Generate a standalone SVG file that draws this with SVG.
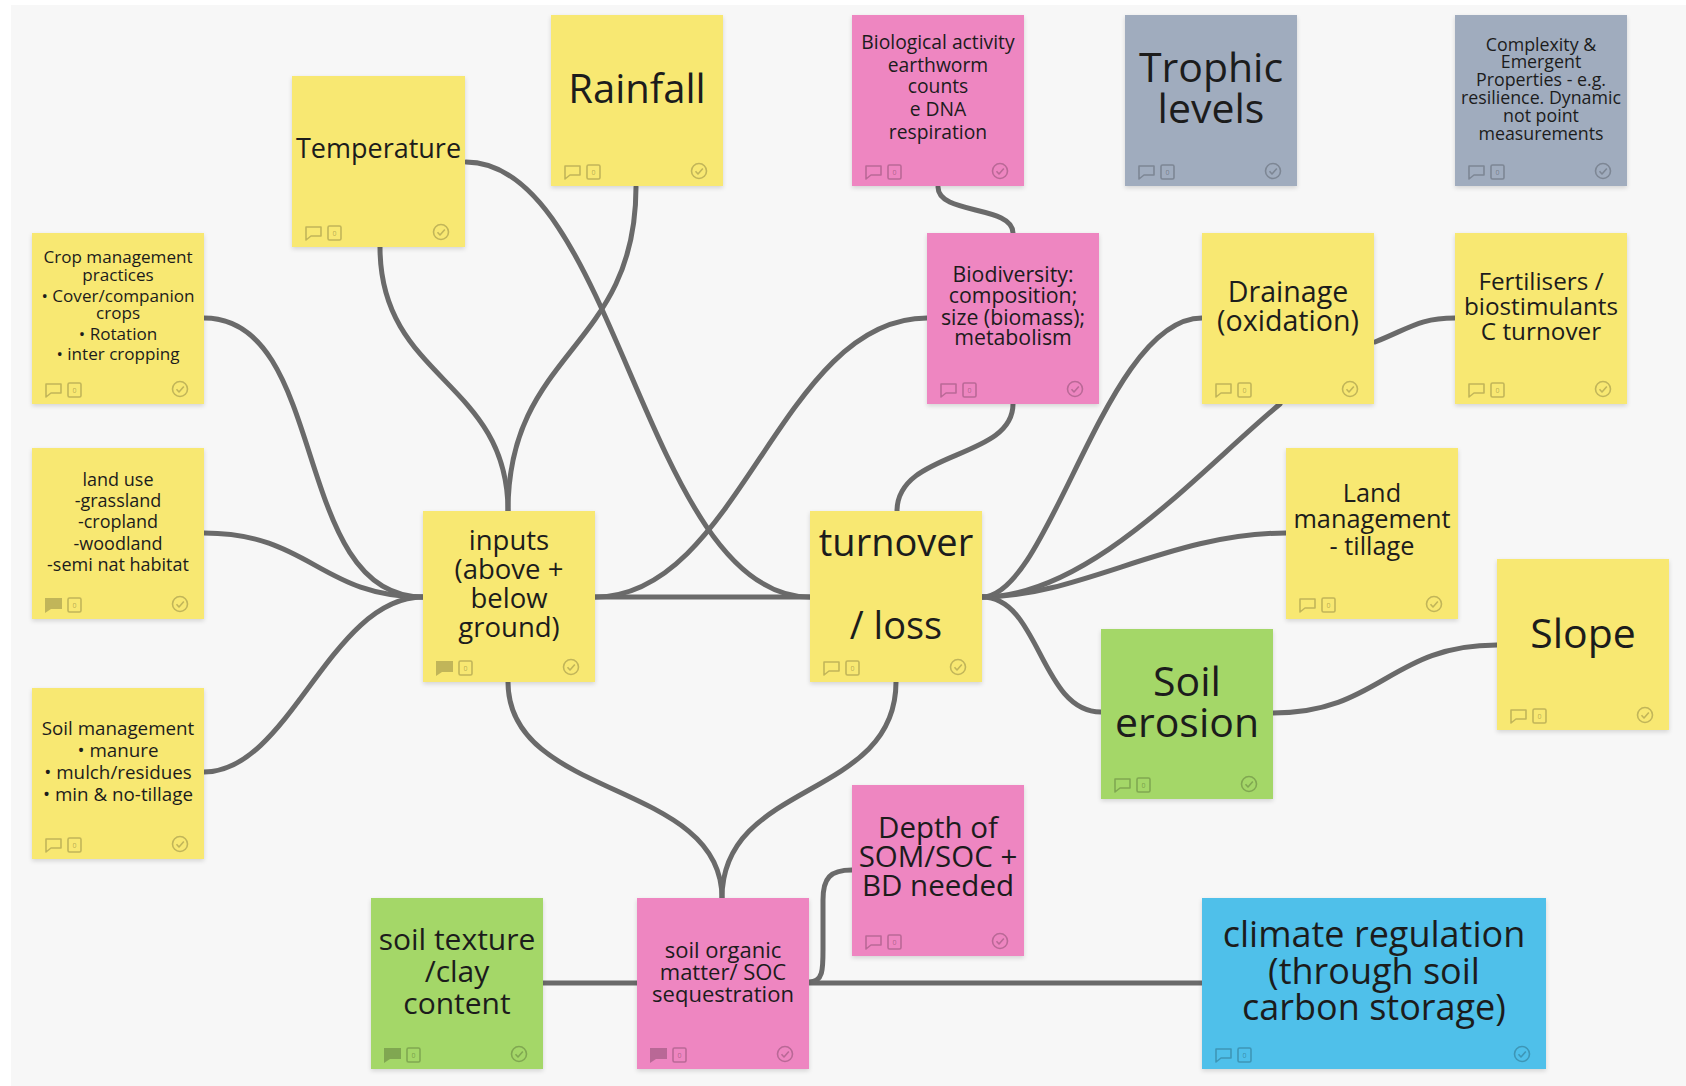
<svg xmlns="http://www.w3.org/2000/svg" xmlns:xlink="http://www.w3.org/1999/xlink" width="1686" height="1086" viewBox="0 0 1686 1086">
<defs>
<style>
.bg{fill:#f7f7f7}
.n{stroke:none;filter:url(#sh)}
.y{fill:#f8e872}.p{fill:#ee86c1}.g{fill:#a0acbe}.gr{fill:#a4d768}.b{fill:#4fc0ea}
text{font-family:"Open Sans","Noto Sans","Liberation Sans",sans-serif;fill:#1c1c1c;text-anchor:middle}
.c{fill:none;stroke:#6a6a6a;stroke-width:5;stroke-linecap:round}
.ic{fill:none;stroke:#000;stroke-opacity:.22;stroke-width:1.6;stroke-linejoin:round}
.icf{fill:#000;fill-opacity:.22;stroke:none}
.zero{font-size:7px;fill:#000;fill-opacity:.3}
</style>
<filter id="sh" x="-5%" y="-5%" width="110%" height="115%">
<feDropShadow dx="0" dy="2" stdDeviation="2" flood-color="#000" flood-opacity="0.14"/>
</filter>
<g id="ftL">
<path class="ic" d="M14 -20 H29 V-11 H19 L14 -7 Z"/>
<rect class="ic" x="36" y="-21" width="13" height="14" rx="1.5"/>
<text class="zero" x="42.5" y="-11.5">0</text>
</g>
<g id="ftF">
<path class="icf" d="M13 -21 H30 V-10 H19 L13 -6 Z"/>
<rect class="ic" x="36" y="-21" width="13" height="14" rx="1.5"/>
<text class="zero" x="42.5" y="-11.5">0</text>
</g>
<g id="ck">
<circle class="ic" cx="0" cy="0" r="7.5"/>
<path class="ic" d="M-3.5 0.3 L-1 3 L3.8 -2.6"/>
</g>
</defs>

<rect x="0" y="0" width="1686" height="1086" fill="#ffffff"/>
<rect class="bg" x="11" y="5" width="1675" height="1081"/>

<g id="connectors">
<path class="c" d="M466 162 C616 162 646 597 810 597"/>
<path class="c" d="M636 187 C636 350 508 350 508 511"/>
<path class="c" d="M380 247 C380 380 508 380 508 511"/>
<path class="c" d="M204 318 C330 318 290 597 423 597"/>
<path class="c" d="M204 533 C310 533 320 597 423 597"/>
<path class="c" d="M204 772 C290 772 330 597 423 597"/>
<path class="c" d="M595 597 L810 597"/>
<path class="c" d="M595 597 C740 597 780 318 927 318"/>
<path class="c" d="M938 187 C938 215 1013 205 1013 233"/>
<path class="c" d="M1013 404 C1013 460 897 450 897 511"/>
<path class="c" d="M896 682 C896 800 722 780 722 898"/>
<path class="c" d="M508 682 C508 800 722 780 722 898"/>
<path class="c" d="M543 983 L637 983"/>
<path class="c" d="M809 983 L1202 983"/>
<path class="c" d="M809 982 C824 982 823 968 823 945 L823 900 C823 878 830 870 852 870"/>
<path class="c" d="M982 597 C1050 597 1105 318 1202 318"/>
<path class="c" d="M982 597 C1090 597 1200 470 1280 404"/>
<path class="c" d="M982 597 C1080 597 1170 533 1286 533"/>
<path class="c" d="M982 597 C1040 597 1040 712 1101 712"/>
<path class="c" d="M1375 342 C1410 328 1420 318 1455 318"/>
<path class="c" d="M1273 713 C1380 713 1390 645 1497 645"/>
</g>

<g id="temperature">
<rect class="n y" x="292" y="76" width="173" height="171"/>
<text x="378.5" y="158" font-size="27">Temperature</text>
<use href="#ftL" x="292" y="247"/><use href="#ck" x="441" y="232"/>
</g>

<g id="rainfall">
<rect class="n y" x="551" y="15" width="172" height="171"/>
<text x="637" y="103" font-size="40">Rainfall</text>
<use href="#ftL" x="551" y="186"/><use href="#ck" x="699" y="171"/>
</g>

<g id="biological-activity">
<rect class="n p" x="852" y="15" width="172" height="171"/>
<text x="938" font-size="19.3"><tspan x="938" y="49">Biological activity</tspan><tspan x="938" y="72">earthworm</tspan><tspan x="938" y="93">counts</tspan><tspan x="938" y="116">e DNA</tspan><tspan x="938" y="139">respiration</tspan></text>
<use href="#ftL" x="852" y="186"/><use href="#ck" x="1000" y="171"/>
</g>

<g id="trophic-levels">
<rect class="n g" x="1125" y="15" width="172" height="171"/>
<text x="1211" font-size="41"><tspan x="1211" y="82">Trophic</tspan><tspan x="1211" y="123">levels</tspan></text>
<use href="#ftL" x="1125" y="186"/><use href="#ck" x="1273" y="171"/>
</g>

<g id="complexity">
<rect class="n g" x="1455" y="15" width="172" height="171"/>
<text x="1541" font-size="17.8"><tspan x="1541" y="51">Complexity &amp;</tspan><tspan x="1541" y="68">Emergent</tspan><tspan x="1541" y="86">Properties - e.g.</tspan><tspan x="1541" y="104">resilience. Dynamic</tspan><tspan x="1541" y="122">not point</tspan><tspan x="1541" y="140">measurements</tspan></text>
<use href="#ftL" x="1455" y="186"/><use href="#ck" x="1603" y="171"/>
</g>

<g id="crop-management">
<rect class="n y" x="32" y="233" width="172" height="171"/>
<text x="118" font-size="17.1"><tspan x="118" y="263">Crop management</tspan><tspan x="118" y="281">practices</tspan><tspan x="118" y="302">• Cover/companion</tspan><tspan x="118" y="319">crops</tspan><tspan x="118" y="340">• Rotation</tspan><tspan x="118" y="360">• inter cropping</tspan></text>
<use href="#ftL" x="32" y="404"/><use href="#ck" x="180" y="389"/>
</g>

<g id="biodiversity">
<rect class="n p" x="927" y="233" width="172" height="171"/>
<text x="1013" font-size="21.3"><tspan x="1013" y="282">Biodiversity:</tspan><tspan x="1013" y="303">composition;</tspan><tspan x="1013" y="325">size (biomass);</tspan><tspan x="1013" y="345">metabolism</tspan></text>
<use href="#ftL" x="927" y="404"/><use href="#ck" x="1075" y="389"/>
</g>

<g id="drainage">
<rect class="n y" x="1202" y="233" width="172" height="171"/>
<text x="1288" font-size="28.6"><tspan x="1288" y="302">Drainage</tspan><tspan x="1288" y="331">(oxidation)</tspan></text>
<use href="#ftL" x="1202" y="404"/><use href="#ck" x="1350" y="389"/>
</g>

<g id="fertilisers">
<rect class="n y" x="1455" y="233" width="172" height="171"/>
<text x="1541" font-size="24.3"><tspan x="1541" y="290">Fertilisers /</tspan><tspan x="1541" y="315">biostimulants</tspan><tspan x="1541" y="340">C turnover</tspan></text>
<use href="#ftL" x="1455" y="404"/><use href="#ck" x="1603" y="389"/>
</g>

<g id="land-use">
<rect class="n y" x="32" y="448" width="172" height="171"/>
<text x="118" font-size="18"><tspan x="118" y="486">land use</tspan><tspan x="118" y="507">-grassland</tspan><tspan x="118" y="528">-cropland</tspan><tspan x="118" y="550">-woodland</tspan><tspan x="118" y="571">-semi nat habitat</tspan></text>
<use href="#ftF" x="32" y="619"/><use href="#ck" x="180" y="604"/>
</g>

<g id="land-management">
<rect class="n y" x="1286" y="448" width="172" height="171"/>
<text x="1372" font-size="25.3"><tspan x="1372" y="502">Land</tspan><tspan x="1372" y="528">management</tspan><tspan x="1372" y="555">- tillage</tspan></text>
<use href="#ftL" x="1286" y="619"/><use href="#ck" x="1434" y="604"/>
</g>

<g id="inputs">
<rect class="n y" x="423" y="511" width="172" height="171"/>
<text x="509" font-size="27.5"><tspan x="509" y="550">inputs</tspan><tspan x="509" y="579">(above +</tspan><tspan x="509" y="608">below</tspan><tspan x="509" y="637">ground)</tspan></text>
<use href="#ftF" x="423" y="682"/><use href="#ck" x="571" y="667"/>
</g>

<g id="turnover">
<rect class="n y" x="810" y="511" width="172" height="171"/>
<text x="896" font-size="38"><tspan x="896" y="556">turnover</tspan><tspan x="896" y="639">/ loss</tspan></text>
<use href="#ftL" x="810" y="682"/><use href="#ck" x="958" y="667"/>
</g>

<g id="slope">
<rect class="n y" x="1497" y="559" width="172" height="171"/>
<text x="1583" y="648" font-size="41">Slope</text>
<use href="#ftL" x="1497" y="730"/><use href="#ck" x="1645" y="715"/>
</g>

<g id="soil-erosion">
<rect class="n gr" x="1101" y="629" width="172" height="170"/>
<text x="1187" font-size="41"><tspan x="1187" y="696">Soil</tspan><tspan x="1187" y="737">erosion</tspan></text>
<use href="#ftL" x="1101" y="799"/><use href="#ck" x="1249" y="784"/>
</g>

<g id="soil-management">
<rect class="n y" x="32" y="688" width="172" height="171"/>
<text x="118" font-size="18.8"><tspan x="118" y="735">Soil management</tspan><tspan x="118" y="757">• manure</tspan><tspan x="118" y="779">• mulch/residues</tspan><tspan x="118" y="801">• min &amp; no-tillage</tspan></text>
<use href="#ftL" x="32" y="859"/><use href="#ck" x="180" y="844"/>
</g>

<g id="depth">
<rect class="n p" x="852" y="785" width="172" height="171"/>
<text x="938" font-size="29.5"><tspan x="938" y="838">Depth of</tspan><tspan x="938" y="867">SOM/SOC +</tspan><tspan x="938" y="896">BD needed</tspan></text>
<use href="#ftL" x="852" y="956"/><use href="#ck" x="1000" y="941"/>
</g>

<g id="soil-texture">
<rect class="n gr" x="371" y="898" width="172" height="171"/>
<text x="457" font-size="30"><tspan x="457" y="950">soil texture</tspan><tspan x="457" y="982">/clay</tspan><tspan x="457" y="1014">content</tspan></text>
<use href="#ftF" x="371" y="1069"/><use href="#ck" x="519" y="1054"/>
</g>

<g id="soil-organic-matter">
<rect class="n p" x="637" y="898" width="172" height="171"/>
<text x="723" font-size="22"><tspan x="723" y="958">soil organic</tspan><tspan x="723" y="980">matter/ SOC</tspan><tspan x="723" y="1002">sequestration</tspan></text>
<use href="#ftF" x="637" y="1069"/><use href="#ck" x="785" y="1054"/>
</g>

<g id="climate-regulation">
<rect class="n b" x="1202" y="898" width="344" height="171"/>
<text x="1374" font-size="36"><tspan x="1374" y="947">climate regulation</tspan><tspan x="1374" y="984">(through soil</tspan><tspan x="1374" y="1020">carbon storage)</tspan></text>
<use href="#ftL" x="1202" y="1069"/><use href="#ck" x="1522" y="1054"/>
</g>
</svg>
